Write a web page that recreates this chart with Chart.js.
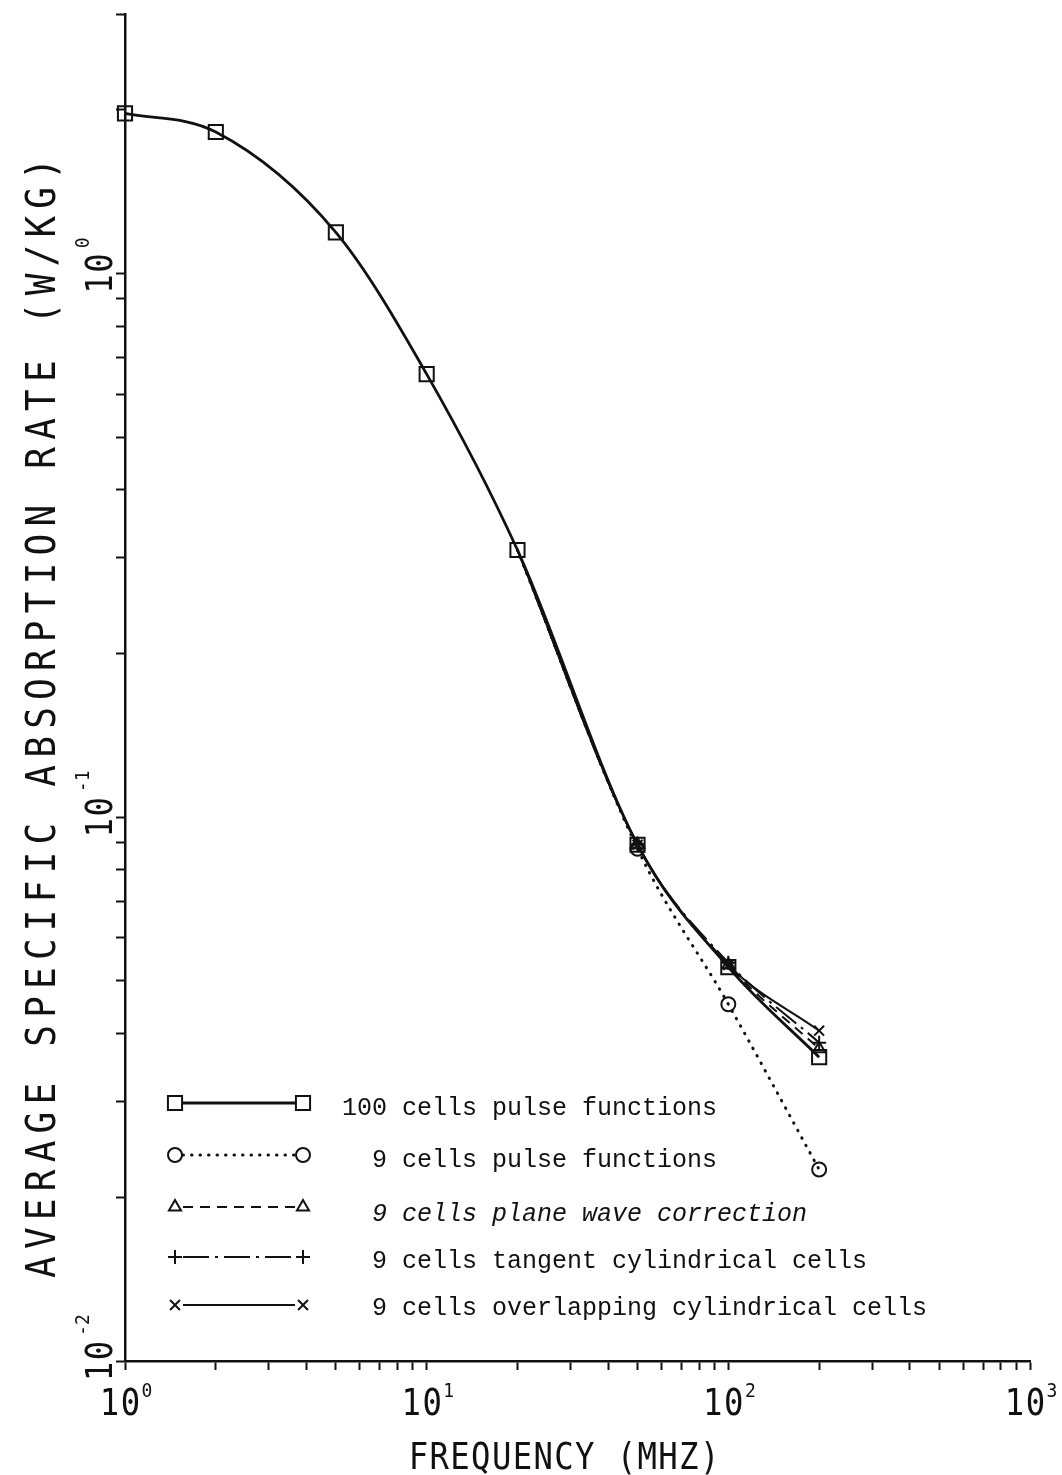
<!DOCTYPE html>
<html>
<head>
<meta charset="utf-8">
<script src="https://cdn.jsdelivr.net/npm/chart.js@4.4.1/dist/chart.umd.min.js"></script>
<style>
  html, body { margin: 0; padding: 0; background: #fff; }
  #wrap { width: 1062px; height: 1475px; }
</style>
</head>
<body>
<div id="wrap"><canvas id="sar" width="1062" height="1475"></canvas></div>
<script>
// Frequencies (MHz) and average SAR (W/kg)
const freqMHz = [1, 2, 5, 10, 20, 50, 100, 200];
const sar100Pulse = [1.97, 1.82, 1.19, 0.653, 0.31, 0.089, 0.053, 0.0362];

const freq9 = [20, 50, 100, 200];
const sar9Pulse = [0.31, 0.0875, 0.0453, 0.0225];
const sar9Plane = [0.31, 0.089, 0.0535, 0.0375];
const sar9Tangent = [0.31, 0.089, 0.054, 0.0385];
const sar9Overlap = [0.31, 0.089, 0.0535, 0.0405];

const seriesLabels = [
  '100 cells pulse functions',
  '9 cells pulse functions',
  '9 cells plane wave correction',
  '9 cells tangent cylindrical cells',
  '9 cells overlapping cylindrical cells'
];

// Axis ticks
const xMajorTicks = [1, 10, 100, 1000];
const xMajorExponents = ['0', '1', '2', '3'];
const yMajorTicks = [0.01, 0.1, 1];
const yMajorExponents = ['-2', '-1', '0'];
const xTickValues = [1, 2, 3, 4, 5, 6, 7, 8, 9, 10, 20, 30, 40, 50, 60, 70, 80, 90,
                     100, 200, 300, 400, 500, 600, 700, 800, 900, 1000];
const yTickValues = [0.01, 0.02, 0.03, 0.04, 0.05, 0.06, 0.07, 0.08, 0.09,
                     0.1, 0.2, 0.3, 0.4, 0.5, 0.6, 0.7, 0.8, 0.9, 1, 2, 3];

const xTitle = 'FREQUENCY (MHZ)';
const yTitle = 'AVERAGE SPECIFIC ABSORPTION RATE (W/KG)';

const INK = '#111';
const plotterFont = 'DejaVu Sans Mono';
const typeFont = 'Liberation Mono';

function pts(xs, ys) { return xs.map((x, i) => ({ x: x, y: ys[i] })); }

// Line styles shared by the plotted curves and the key
const styles = [
  { pointStyle: 'rect',     radius: 10, dash: [],              width: 2.8, cap: 'butt' },
  { pointStyle: 'circle',   radius: 7,  dash: [0.5, 8],        width: 3,   cap: 'round' },
  { pointStyle: 'triangle', radius: 7,  dash: [10, 7],         width: 2,   cap: 'butt' },
  { pointStyle: 'cross',    radius: 7,  dash: [26, 6, 3, 6],   width: 2,   cap: 'butt' },
  { pointStyle: 'crossRot', radius: 7,  dash: [],              width: 2,   cap: 'butt' }
];

function ds(label, data, st, radii) {
  return {
    label: label,
    data: data,
    clip: false,
    borderColor: INK,
    backgroundColor: 'rgba(0,0,0,0)',
    borderWidth: st.width,
    borderDash: st.dash,
    borderCapStyle: st.cap,
    cubicInterpolationMode: 'monotone',
    pointStyle: st.pointStyle,
    pointRadius: radii,
    pointBorderWidth: 2,
    pointBorderColor: INK,
    pointBackgroundColor: 'rgba(0,0,0,0)',
    fill: false
  };
}

const hidden20 = [0, 7, 7, 7];

// Draws a string character by character at a fixed pitch, centred on (cx, cy)
function drawSpaced(ctx, text, cx, cy, pitch, fontPx, squeeze) {
  ctx.font = fontPx + 'px "' + plotterFont + '"';
  ctx.textAlign = 'center';
  ctx.textBaseline = 'alphabetic';
  const capH = fontPx * 0.73;
  const start = cx - (text.length - 1) * pitch / 2;
  for (let i = 0; i < text.length; i++) {
    ctx.save();
    ctx.translate(start + i * pitch, cy + capH / 2);
    ctx.scale(squeeze, 1);
    ctx.fillText(text[i], 0, 0);
    ctx.restore();
  }
}

const decorations = {
  id: 'decorations',
  afterDraw(chart) {
    const ctx = chart.ctx;
    const xs = chart.scales.x, ys = chart.scales.y;
    ctx.save();
    ctx.fillStyle = INK;

    // x tick labels: 10 with a raised exponent
    xMajorTicks.forEach((v, i) => {
      const px = xs.getPixelForValue(v) - 5;
      drawSpaced(ctx, '10', px, 1401, 21, 38, 0.85);
      drawSpaced(ctx, xMajorExponents[i], px + 27, 1390, 11, 20, 0.9);
    });

    // y tick labels, rotated to read upwards
    yMajorTicks.forEach((v, i) => {
      const py = ys.getPixelForValue(v);
      ctx.save();
      ctx.translate(98, py);
      ctx.rotate(-Math.PI / 2);
      drawSpaced(ctx, '10', 0, 0, 21, 38, 0.85);
      const e = yMajorExponents[i];
      drawSpaced(ctx, e, 25 + e.length * 5.5, -16, 11, 20, 0.9);
      ctx.restore();
    });

    // axis titles
    drawSpaced(ctx, xTitle, 564, 1455, 20.8, 38, 0.85);
    ctx.save();
    ctx.translate(40, 718);
    ctx.rotate(-Math.PI / 2);
    drawSpaced(ctx, yTitle, 0, 0, 28.9, 40, 0.9);
    ctx.restore();

    // key
    const rowLine = [1103, 1155, 1207, 1257, 1305];
    const rowBase = [1115, 1167, 1221, 1268, 1315];
    const x0 = 175, x1 = 303;
    styles.forEach((st, i) => {
      ctx.save();
      ctx.strokeStyle = INK;
      ctx.lineWidth = st.width;
      ctx.lineCap = st.cap;
      ctx.setLineDash(st.dash);
      ctx.beginPath();
      ctx.moveTo(x0 + 8, rowLine[i]);
      ctx.lineTo(x1 - 8, rowLine[i]);
      ctx.stroke();
      ctx.setLineDash([]);
      ctx.lineWidth = 2;
      ctx.fillStyle = 'rgba(0,0,0,0)';
      [x0, x1].forEach(px => {
        Chart.helpers.drawPoint(ctx, { pointStyle: st.pointStyle, radius: st.radius, borderWidth: 2, rotation: 0 }, px, rowLine[i]);
      });
      ctx.restore();

      ctx.fillStyle = INK;
      ctx.textAlign = 'left';
      ctx.textBaseline = 'alphabetic';
      ctx.font = (i === 2 ? 'italic ' : '') + '25px "' + typeFont + '"';
      const label = seriesLabels[i];
      const tx = label.startsWith('100') ? 342 : 372;
      ctx.fillText(label, tx, rowBase[i]);
    });
    ctx.restore();
  }
};

const axisGrid = {
  display: true,
  drawOnChartArea: false,
  drawTicks: true,
  tickLength: 9,
  tickWidth: 2,
  color: INK
};

new Chart(document.getElementById('sar'), {
  type: 'line',
  data: {
    datasets: [
      ds(seriesLabels[4], pts(freq9, sar9Overlap), styles[4], hidden20),
      ds(seriesLabels[3], pts(freq9, sar9Tangent), styles[3], hidden20),
      ds(seriesLabels[2], pts(freq9, sar9Plane), styles[2], hidden20),
      ds(seriesLabels[1], pts(freq9, sar9Pulse), styles[1], hidden20),
      ds(seriesLabels[0], pts(freqMHz, sar100Pulse), styles[0], 10)
    ]
  },
  options: {
    responsive: false,
    animation: false,
    events: [],
    layout: { padding: { left: 116, right: 32, top: 14, bottom: 105 } },
    plugins: { legend: { display: false }, tooltip: { enabled: false } },
    scales: {
      x: {
        type: 'logarithmic',
        min: 1, max: 1000,
        afterBuildTicks: s => { s.ticks = xTickValues.map(v => ({ value: v })); },
        ticks: { display: false },
        grid: axisGrid,
        border: { display: true, color: INK, width: 2.5 },
        title: { display: false }
      },
      y: {
        type: 'logarithmic',
        min: 0.01, max: 3,
        afterBuildTicks: s => { s.ticks = yTickValues.map(v => ({ value: v })); },
        ticks: { display: false },
        grid: axisGrid,
        border: { display: true, color: INK, width: 2.5 },
        title: { display: false }
      }
    }
  },
  plugins: [decorations]
});
</script>
</body>
</html>
